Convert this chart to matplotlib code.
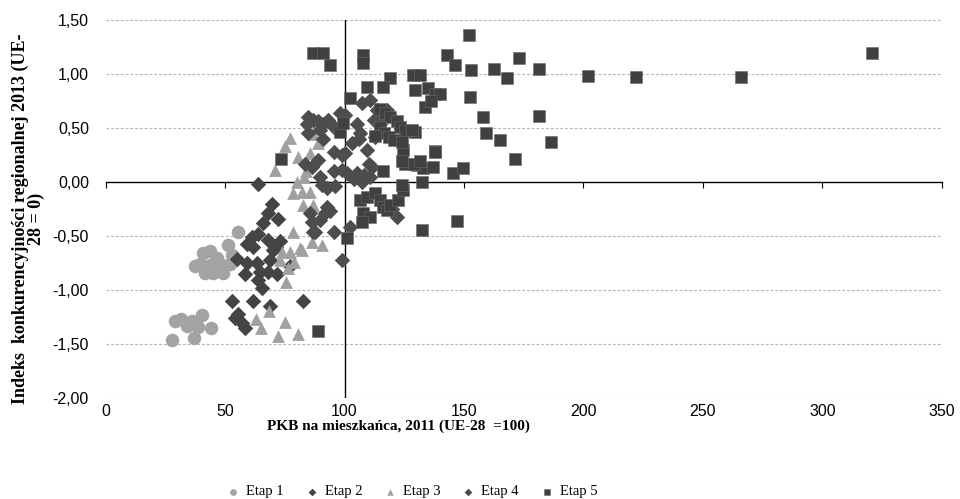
import matplotlib
matplotlib.use("Agg")
import matplotlib.pyplot as plt
import numpy as np

# dane: PKB na mieszkańca (x), indeks konkurencyjności (y)
etap1_x = [29, 31.5, 28, 36, 40.5, 38.5, 37, 44, 34,
           40.8, 43.6, 51.3, 55.5, 39.4, 43.6, 47.8, 49.2, 45, 52, 52.7, 41.5, 46.5, 37.5]
etap1_y = [-1.29, -1.27, -1.46, -1.29, -1.23, -1.34, -1.44, -1.35, -1.33,
           -0.66, -0.64, -0.58, -0.46, -0.76, -0.77, -0.76, -0.84, -0.84, -0.76, -0.68, -0.84, -0.70, -0.78]

etap2_x = [52.7, 61.8, 68.8, 82.8, 54.1, 56.9, 58.3, 55.5,
           59, 61.1, 63.9, 68.1, 73, 70.2, 54.8, 59, 63.2, 68.8, 58.3, 64.6, 68.1, 71.6, 63.9, 65.3, 77.2,
           63.9, 69.5, 68.1, 72.3, 66, 71.5, 61.5]
etap2_y = [-1.10, -1.10, -1.15, -1.10, -1.26, -1.31, -1.35, -1.22,
           -0.57, -0.51, -0.48, -0.54, -0.55, -0.63, -0.71, -0.75, -0.75, -0.72, -0.85, -0.83, -0.83, -0.85, -0.91, -0.98, -0.78,
           -0.02, -0.20, -0.29, -0.34, -0.38, -0.60, -0.60]

etap3_x = [77.2, 75, 71, 80.6, 86.9, 89, 85.6, 78.5, 82, 85.6, 80, 83, 82.7, 86.9,
           78.5, 86.4, 90.6, 77.2, 74, 76.4, 75.6, 68.6, 63, 65, 75, 72, 80.5, 81.2, 84, 88, 73, 79, 82.1]
etap3_y = [0.41, 0.33, 0.11, 0.23, 0.44, 0.36, 0.27, -0.10, -0.09, -0.09, 0.0, 0.05, -0.21, -0.21,
           -0.46, -0.56, -0.58, -0.65, -0.65, -0.80, -0.93, -1.19, -1.27, -1.35, -1.30, -1.43, -1.41, -0.61, 0.10, 0.50, -0.72, -0.74, -0.63]

etap4_x = [87, 92.6, 91.9, 94, 85.6, 86.3, 89.8, 87.7, 95.4, 98.9, 92.6, 96.1, 90.5,
           84.9, 87, 89.1, 91.2, 93.3, 95.4, 98.2, 84.9, 89.8, 95.4, 89.1, 86.3, 83.5, 95.4, 89.8, 98.9, 98.9, 84.2, 91,
           100.3, 103.1, 106.6, 105.2, 107.3, 110.8, 109.4, 110.1, 105.2, 107.3, 113.6, 115, 117.8, 112.9, 111.5,
           100.3, 101, 122, 102.4, 103.8, 108, 110.8, 112.2, 115.7, 105.9, 96.8, 120]
etap4_y = [-0.46, -0.23, -0.29, -0.27, -0.29, -0.37, -0.35, -0.46, -0.46, -0.72, -0.06, -0.04, -0.03,
           0.60, 0.57, 0.56, 0.54, 0.57, 0.51, 0.64, 0.45, 0.48, 0.28, 0.20, 0.14, 0.17, 0.10, 0.05, 0.25, 0.11, 0.54, 0.40,
           0.62, 0.36, 0.45, 0.54, 0.73, 0.76, 0.30, 0.17, 0.08, 0.00, 0.67, 0.54, 0.67, 0.42, 0.14,
           0.27, 0.08, -0.32, -0.42, 0.03, 0.06, 0.05, 0.57, 0.62, 0.40, 0.48, -0.25]

etap5_x = [86.9, 91.1, 94, 107.9, 107.9, 119, 116, 109.5, 102.4, 128.8, 131.8, 129.7, 135, 138, 140, 133.9, 136,
           152.3, 142.9, 146.1, 152.9, 162.4, 172.9, 168, 181.6, 201.9, 221.9, 265.8, 321,
           152.6, 158.1, 181.6, 159.3, 164.9, 186.3, 171.2, 137.9, 147.2, 132.5,
           124.6, 125.5, 130.5, 133, 137.2, 138, 145.6, 149.4, 132.6, 116.2, 124, 129.5,
           115, 117, 119.2, 122, 123.4, 125.5, 128.3, 115, 116.4, 118.5, 120.6, 124, 112.9, 129, 131.8,
           106.6, 109.5, 112.9, 115, 116.2, 117.9, 107.9, 110.8, 107.4, 119.2, 122.5, 124.6, 124.2,
           101.1, 89, 73.5, 98, 99.5]
etap5_y = [1.19, 1.19, 1.08, 1.18, 1.10, 0.96, 0.88, 0.88, 0.78, 0.99, 0.99, 0.85, 0.87, 0.81, 0.81, 0.69, 0.75,
           1.36, 1.18, 1.08, 1.04, 1.05, 1.15, 0.96, 1.05, 0.98, 0.97, 0.97, 1.19,
           0.79, 0.60, 0.61, 0.45, 0.39, 0.37, 0.21, 0.29, -0.36, -0.44,
           0.30, 0.17, 0.16, 0.13, 0.14, 0.28, 0.08, 0.13, 0.00, 0.10, 0.19, 0.46,
           0.68, 0.64, 0.60, 0.56, 0.51, 0.47, 0.48, 0.51, 0.45, 0.42, 0.39, 0.37, 0.43, 0.17, 0.19,
           -0.17, -0.14, -0.10, -0.17, -0.23, -0.26, -0.29, -0.32, -0.37, -0.21, -0.17, -0.07, -0.03,
           -0.52, -1.38, 0.21, 0.46, 0.55]

labels = ['Etap 1', 'Etap 2', 'Etap 3', 'Etap 4', 'Etap 5']
xticks = [0, 50, 100, 150, 200, 250, 300, 350]
yticks = [-2.0, -1.5, -1.0, -0.5, 0.0, 0.5, 1.0, 1.5]

serif = ['Liberation Serif', 'DejaVu Serif']
plt.rcParams['font.family'] = ['Liberation Sans', 'DejaVu Sans']

fig = plt.figure(figsize=(9.6, 4.99), dpi=100)
ax = fig.add_axes([0.110, 0.2024, 0.871, 0.7576])

ax.scatter(etap1_x, etap1_y, s=95, marker='o', color='#a3a3a3', lw=0, label=labels[0], zorder=3)
ax.scatter(etap2_x, etap2_y, s=62, marker='D', color='#444444', lw=0, label=labels[1], zorder=3)
ax.scatter(etap3_x, etap3_y, s=85, marker='^', color='#a0a0a0', lw=0, label=labels[2], zorder=3)
ax.scatter(etap4_x, etap4_y, s=62, marker='D', color='#4d4d4d', lw=0, label=labels[3], zorder=3)
ax.scatter(etap5_x, etap5_y, s=78, marker='s', color='#404040', edgecolor='#6a6a6a', lw=0.4,
           label=labels[4], zorder=4)

ax.set_xlim(0, 350)
ax.set_ylim(-2.0, 1.5)

# siatka przerywana
for yv in yticks:
    if yv != 0:
        ax.axhline(yv, color='#b4b4b4', lw=0.8, ls=(0, (2.5, 1.8)), zorder=1)

# oś pionowa przy x = 100
ax.axvline(100, color='black', lw=1.0, zorder=2)
ax.spines['left'].set_visible(False)
ax.spines['right'].set_visible(False)
ax.spines['top'].set_visible(False)
ax.spines['bottom'].set_position(('data', 0))
ax.spines['bottom'].set_linewidth(1.0)
ax.spines['bottom'].set_zorder(2)
ax.set_xticks(xticks)
ax.tick_params(axis='x', direction='out', length=4, width=0.8, labelbottom=False)
ax.set_yticks(yticks)
ax.set_yticklabels([('%.2f' % v).replace('.', ',') for v in yticks])
ax.tick_params(axis='y', length=0, pad=12, labelsize=11.5, colors='black')

sec = ax.secondary_xaxis(0)
sec.spines['bottom'].set_visible(False)
sec.set_xticks(xticks)
sec.set_xticklabels([str(v) for v in xticks])
sec.tick_params(length=0, pad=4, labelsize=11.5)

fig.text(0.415, 0.146, 'PKB na mieszkańca, 2011 (UE-28  =100)', ha='center', va='center',
         fontsize=11, fontweight='bold', family=serif)
fig.text(0.030, 0.561, 'Indeks  konkurencyjności regionalnej 2013 (UE-\n28 = 0)',
         rotation=90, ha='center', va='center', multialignment='center',
         fontsize=13, fontweight='bold', family=serif, linespacing=0.9)

leg = fig.legend(loc='lower center', bbox_to_anchor=(0.428, -0.025), ncol=5, frameon=False,
                 prop={'family': serif, 'size': 10.5}, markerscale=0.5, handletextpad=0.3,
                 columnspacing=1.3, handlelength=1.2)

fig.savefig('out.png', dpi=100)
